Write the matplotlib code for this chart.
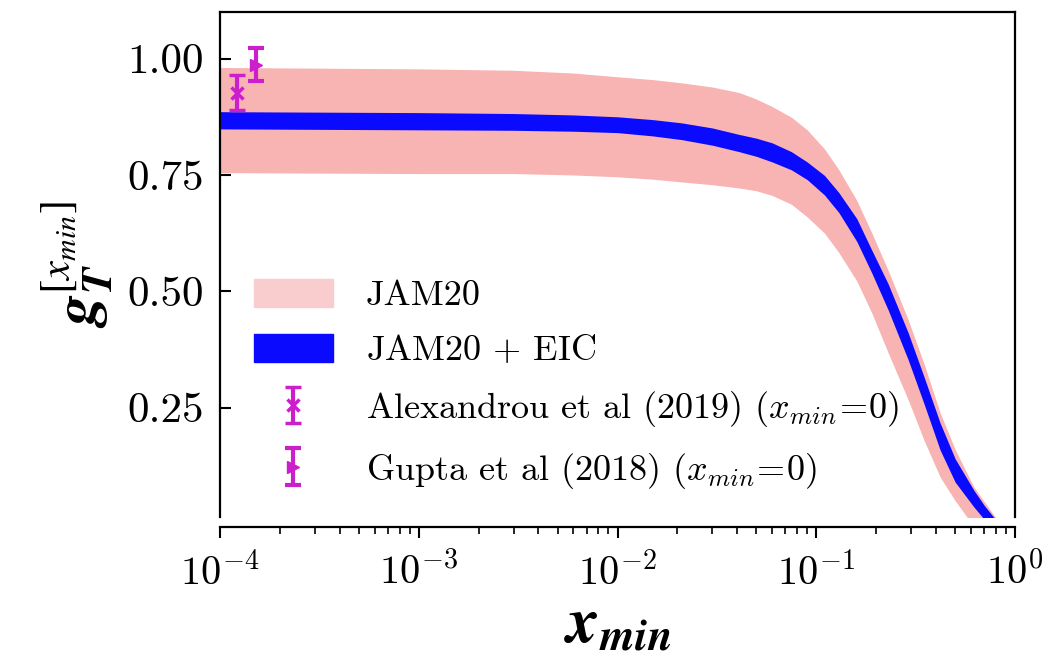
import numpy as np
import matplotlib
matplotlib.use("Agg")
import matplotlib.pyplot as plt
from matplotlib.patches import Patch

plt.rcParams['font.family'] = 'serif'
plt.rcParams['font.serif'] = ['cmr10', 'DejaVu Serif']
plt.rcParams['mathtext.fontset'] = 'cm'
plt.rcParams['axes.formatter.use_mathtext'] = True

# truncated tensor charge g_T^[xmin] vs xmin, 1-sigma bands
xmin = [1e-4, 1e-3, 3e-3, 6e-3, 0.01, 0.015, 0.021, 0.03, 0.041, 0.05, 0.06, 0.075, 0.09,
        0.11, 0.13, 0.16, 0.19, 0.23, 0.29, 0.35, 0.42, 0.5, 0.62, 0.7, 0.78, 0.85]
jam_hi = [.981, .978, .975, .969, .961, .955, .948, .939, .927, .913, .897, .874, .847,
          .806, .761, .695, .626, .545, .439, .342, .239, .160, .080, .048, .020, 0.0]
jam_lo = [.755, .753, .753, .750, .746, .741, .735, .729, .722, .716, .706, .687, .660,
          .625, .583, .522, .454, .368, .267, .178, .101, .050, -.005, -.04, -.07, -.10]
eic_hi = [.886, .884, .882, .879, .875, .869, .862, .851, .837, .829, .819, .800, .778,
          .749, .712, .656, .589, .516, .411, .314, .217, .140, .073, .040, .015, 0.0]
eic_lo = [.849, .847, .846, .844, .841, .834, .826, .814, .800, .790, .778, .761, .740,
          .707, .669, .607, .540, .460, .353, .256, .159, .090, .037, .010, -.01, -.03]

# lattice points (plotted at small x, they are really xmin = 0)
alex_x, alex_y, alex_err = [1.22e-4], [0.927], [0.038]
gupta_x, gupta_y, gupta_err = [1.52e-4], [0.987], [0.035]

pink = '#f8b3b3'
blue = '#0a0aff'
mag = '#cc1fcc'
eb = dict(color=mag, elinewidth=3, capsize=6, capthick=3)

fig = plt.figure(figsize=(10.48, 6.54), dpi=100)
ax = fig.add_axes([0.21, 0.2095, 0.7585, 0.772])

ax.fill_between(xmin, jam_lo, jam_hi, color=pink, lw=0)
ax.fill_between(xmin, eic_lo, eic_hi, color=blue, lw=0)
h_alex = ax.errorbar(alex_x, alex_y, yerr=alex_err, fmt='x', ms=9, mew=2.5, **eb)
h_gupta = ax.errorbar(gupta_x, gupta_y, yerr=gupta_err, fmt='>', ms=9, **eb)

ax.set_xscale('log')
ax.set_xlim(1e-4, 1)
ax.set_ylim(0.015, 1.10)
ax.set_yticks([0.25, 0.5, 0.75, 1.0])
ax.set_yticklabels(['0.25', '0.50', '0.75', '1.00'])

for s in ax.spines.values():
    s.set_linewidth(1.6)
ax.spines['bottom'].set_position(('outward', 7.2))

ax.tick_params(axis='y', which='major', direction='in', length=8, width=1.5,
               labelsize=31, pad=12)
ax.tick_params(axis='y', which='minor', left=False)
ax.tick_params(axis='x', which='major', direction='out', length=8, width=1.5,
               labelsize=29, pad=10)
ax.tick_params(axis='x', which='minor', direction='out', length=5, width=1.2)

ax.set_xlabel(r'$\mathbfit{x}_{\mathbfit{min}}$', fontsize=46, labelpad=3,
              math_fontfamily='stix')
ax.set_ylabel(r'$\mathbfit{g}_{\mathbfit{T}}^{[x_{min}]}$', fontsize=44, labelpad=8,
              math_fontfamily='stix')

handles = [Patch(color='#f9cdcd'), Patch(color=blue), h_alex, h_gupta]
labels = [r'JAM20', r'JAM20 $+$ EIC',
          r'Alexandrou et al (2019) $(x_{min}\!=\!0)$',
          r'Gupta et al (2018) $(x_{min}\!=\!0)$']
ax.legend(handles, labels, loc='upper left', bbox_to_anchor=(0.024, 0.5),
          frameon=False, fontsize=26, handlelength=2.2, handleheight=0.8,
          handletextpad=0.9, labelspacing=0.6, borderaxespad=0)

fig.savefig('out.png', dpi=100)
